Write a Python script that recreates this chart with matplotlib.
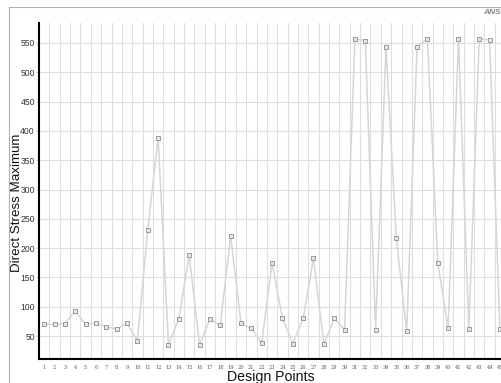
import matplotlib
matplotlib.use("Agg")
import matplotlib.pyplot as plt
from matplotlib.lines import Line2D

points = list(range(1, 46))
stress = [70, 70, 71, 93, 70, 72, 66, 62, 72, 42,
          231, 388, 35, 79, 188, 35, 79, 68, 221, 72,
          63, 38, 175, 81, 37, 80, 183, 36, 80, 61,
          557, 554, 61, 543, 217, 58, 543, 557, 175, 64,
          557, 62, 557, 555, 62]
yticks = [50, 100, 150, 200, 250, 300, 350, 400, 450, 500, 550]

plt.rcParams["font.family"] = ["Liberation Sans", "DejaVu Sans"]

fig = plt.figure(figsize=(5.02, 3.83), dpi=100)
ax = fig.add_axes([39 / 502, 24 / 383, 1 - 39 / 502, 336.3 / 383])

# outer frame of the window
fig.add_artist(Line2D([9 / 502, 9 / 502], [0, 1 - 7 / 383], transform=fig.transFigure, color="#b0b0b0", lw=0.8))
fig.add_artist(Line2D([9 / 502, 1], [1 - 7 / 383, 1 - 7 / 383], transform=fig.transFigure, color="#b0b0b0", lw=0.8))

ax.plot(points, stress, "-", color="#d6d6d6", lw=1.1, zorder=3)
ax.plot(points, stress, "s", ms=3.2, mfc="#e6e6e6", mec="#8c8c8c", mew=0.6, zorder=4)

ax.set_xticks(range(1, 46))
ax.set_xticklabels([str(i) for i in range(1, 46)], fontsize=3.6, color="#555555", family=["DejaVu Serif"])
ax.set_xticks([i + 0.5 for i in range(0, 46)], minor=True)
ax.set_yticks(yticks)
ax.set_yticklabels([str(v) for v in yticks], fontsize=6.2, color="#333333")
ax.set_xlim(0.5, 45.2)
ax.set_ylim(10.8, 584.6)

ax.grid(True, which="minor", axis="x", color="#dedede", lw=0.8)
ax.grid(True, which="major", axis="y", color="#dedede", lw=0.8)
ax.set_axisbelow(True)
ax.tick_params(axis="x", which="both", length=0, pad=4)
ax.tick_params(axis="y", length=2, color="#cccccc", pad=1)

for s in ["top", "right"]:
    ax.spines[s].set_visible(False)
for s in ["left", "bottom"]:
    ax.spines[s].set_linewidth(1.5)
    ax.spines[s].set_color("black")

ax.set_xlabel("Design Points", fontsize=10.2, color="#111111", labelpad=0)
ax.set_ylabel("Direct Stress Maximum", fontsize=9.6, color="#111111")
ax.yaxis.set_label_coords(-0.034, 0.464)

fig.text(483 / 502, 1 - 12 / 383, "ANSYS", fontsize=6, color="#888888",
         fontweight="bold", style="italic", va="center", ha="left")

fig.savefig("out.png", dpi=100)
